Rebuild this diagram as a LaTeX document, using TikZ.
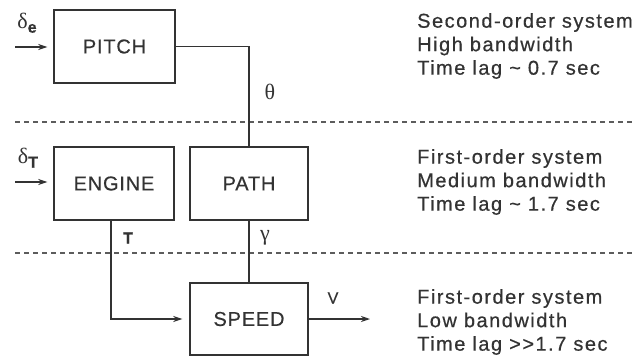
\documentclass[tikz,border=0pt]{standalone}
\usepackage{fontspec}
\setmainfont{Liberation Sans}[LetterSpace=4,FakeBold=0.5]
\newfontfamily\notefont{Liberation Sans}[LetterSpace=7.5,FakeBold=0.5]
\newfontfamily\grk{Liberation Serif}
\usetikzlibrary{arrows.meta}
\definecolor{ink}{HTML}{333333}
\tikzset{
  blockbox/.style={draw=ink, line width=1.4pt, minimum width=120pt, minimum height=73pt, inner sep=0pt, font=\fontsize{20}{22}\selectfont, text=ink},
  wire/.style={draw=ink, line width=1.4pt},
  arr/.style={wire, -{Stealth[length=9pt,width=6pt]}},
  sep/.style={draw=ink!80, line width=1.1pt, dash pattern=on 5pt off 4pt},
  note/.style={anchor=west, align=left, inner sep=0pt, text=ink, font=\notefont\fontsize{20}{23.5}\selectfont},
  sym/.style={inner sep=0pt, text=ink}
}
\begin{document}
\begin{tikzpicture}[x=1pt,y=-1pt]
\useasboundingbox[fill=white] (0,0) rectangle (634,359);
% blocks
\node[blockbox, minimum width=121pt] (pitch) at (114.5,46.5) {PITCH};
\node[blockbox] (engine) at (114,183.5) {ENGINE};
\node[blockbox, minimum width=118pt] (path) at (249,183.5) {PATH};
\node[blockbox, minimum width=118pt, minimum height=72pt] (speed) at (249,319) {SPEED};
% separators
\coordinate (s1a) at (15,122); \coordinate (s1b) at (634,122);
\coordinate (s2a) at (15,253); \coordinate (s2b) at (634,253);
\draw[sep] (s1a) -- (s1b);
\draw[sep] (s2a) -- (s2b);
% inputs
\coordinate (de) at (15,47);
\coordinate (dt) at (15,182);
\draw[arr, shorten >=6pt] (de) -- (pitch.west |- de);
\draw[arr, shorten >=6pt] (dt) -- (engine.west |- dt);
\node[sym, font=\fontsize{22}{22}\selectfont] (dlabe) at (27,23) {{\grk δ}\raisebox{-0.35ex}{\fontsize{16}{16}\selectfont\bfseries e}};
\node[sym, font=\fontsize{22}{22}\selectfont] (dlabt) at (28,158) {{\grk δ}\raisebox{-0.35ex}{\fontsize{16}{16}\selectfont\bfseries T}};
% connections
\draw[wire] (pitch.east) -| (path.north);
\draw[wire] (path.south) -- (speed.north);
\coordinate (tdown) at (111,220);
\draw[arr, shorten >=7pt] (tdown) |- (speed.west);
\coordinate (vend) at (370,319);
\draw[arr] (speed.east) -- (vend);
% signal labels
\node[sym, font=\grk\fontsize{22}{22}\selectfont] (theta) at (270,92) {θ};
\node[sym, font=\fontsize{16}{16}\selectfont\bfseries] (tl) at (128,238) {T};
\node[sym, font=\grk\fontsize{22}{22}\selectfont] (gamma) at (265,238) {γ};
\node[sym, font=\fontsize{16}{16}\selectfont] (vl) at (333,298) {V};
% notes
\node[note] (n1) at (417,46) {Second-order system\\High bandwidth\\Time lag \textasciitilde{} 0.7 sec};
\node[note] (n2) at (417,182) {First-order system\\Medium bandwidth\\Time lag \textasciitilde{} 1.7 sec};
\node[note] (n3) at (417,322) {First-order system\\Low bandwidth\\Time lag >{}>1.7 sec};
\end{tikzpicture}
\end{document}
